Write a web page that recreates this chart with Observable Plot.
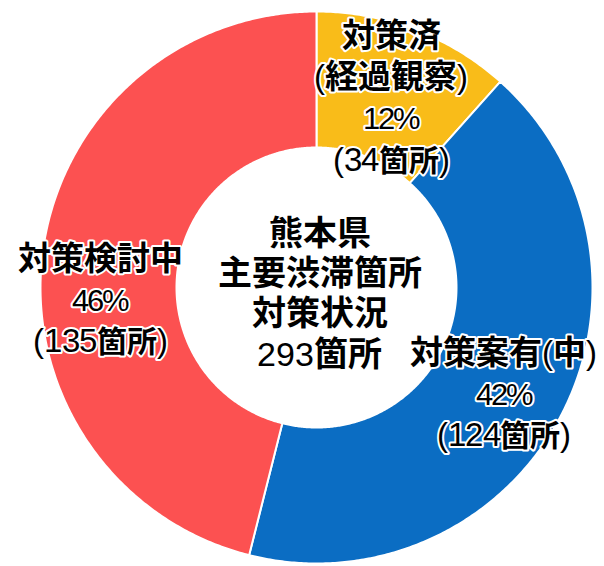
<!DOCTYPE html>
<html><head><meta charset="utf-8">
<script src="https://cdn.jsdelivr.net/npm/d3@7"></script>
<script src="https://cdn.jsdelivr.net/npm/@observablehq/plot@0.6"></script>
<style>
@font-face { font-family: "LabelMix"; src: local("Noto Sans CJK JP Bold"), local("NotoSansCJKjp-Bold"); font-weight: 700; }
@font-face { font-family: "LabelMix"; src: local("Liberation Sans"), local("LiberationSans"), local("Liberation Sans Regular"), local("DejaVu Sans Condensed"); font-weight: 700; unicode-range: U+0020-007E; }
html,body{margin:0;padding:0;background:#fff}
</style>
</head><body><div id="chart"></div>
<script>
// ---- data ----
const categories = ["対策済(経過観察)", "対策案有(中)", "対策検討中"];
const titles = ["対策済\n(経過観察)", "対策案有(中)", "対策検討中"];
const counts = [34, 124, 135];
const percents = [12, 42, 46];
const centerLines = ["熊本県", "主要渋滞箇所", "対策状況", "293箇所"];
const colors = ["#F9BC19", "#0B6DC3", "#FC5151"];

// ---- layout ----
const W = 604, H = 566;
const cx = 316, cy = 287, Rpx = 276;   // centre & outer radius in px
const innerRatio = 140 / 276;
const labelRadius = 0.76;
const labelNudge = [[0, 4], [2, 6], [-8, 36]]; // px nudges per slice label
const fontMix = '"LabelMix", "Noto Sans CJK JP", sans-serif';

const total = d3.sum(counts);
const rows = [];
const labels = [];
let acc = 0;
categories.forEach((cat, i) => {
  const a0 = acc / total * 2 * Math.PI;
  acc += counts[i];
  const a1 = acc / total * 2 * Math.PI;
  const n = Math.max(4, Math.ceil((a1 - a0) / (Math.PI / 360)));
  for (let k = 0; k <= n; k++) {
    const a = a0 + (a1 - a0) * k / n;
    rows.push({cat, x: Math.sin(a), y: Math.cos(a)});
  }
  for (let k = n; k >= 0; k--) {
    const a = a0 + (a1 - a0) * k / n;
    rows.push({cat, x: innerRatio * Math.sin(a), y: innerRatio * Math.cos(a)});
  }
  const am = (a0 + a1) / 2;
  labels.push({
    i,
    x: labelRadius * Math.sin(am),
    y: labelRadius * Math.cos(am),
    text: `${titles[i]}\n${percents[i]}%\n(${counts[i]}箇所)`
  });
});

const marks = [
  Plot.line(rows, {x: "x", y: "y", z: "cat", fill: "cat", stroke: "white", strokeWidth: 2, curve: "linear-closed"})
];
labels.forEach(l => {
  marks.push(Plot.text([l], {
    x: "x", y: "y", text: "text",
    dx: labelNudge[l.i][0], dy: labelNudge[l.i][1],
    fontSize: 33, fontWeight: 700, fontFamily: fontMix,
    lineHeight: 1.25, fill: "black", stroke: "white", strokeWidth: 4
  }));
});
marks.push(Plot.text([{x: 0, y: 0, text: centerLines.join("\n")}], {
  x: "x", y: "y", text: "text", dx: 3, dy: 5,
  fontSize: 34, fontWeight: 700, fontFamily: fontMix, lineHeight: 1.18, fill: "black"
}));

const chart = Plot.plot({
  width: W, height: H,
  margin: 0,
  x: {domain: [-cx / Rpx, (W - cx) / Rpx], axis: null},
  y: {domain: [(cy - H) / Rpx, cy / Rpx], axis: null},
  color: {domain: categories, range: colors},
  style: {background: "white"},
  marks
});
document.getElementById("chart").appendChild(chart);

// slice-label lines with numerals: digits and CJK sized as in the reference
chart.querySelectorAll("text").forEach(t => {
  if (t.textContent.startsWith(centerLines[0])) return;
  t.querySelectorAll("tspan").forEach(line => {
    const s = line.textContent;
    if (!/[0-9]/.test(s)) return;
    const pct = s.includes("%");
    const isNum = p => /^[0-9%]+$/.test(p);
    const isCJK = p => /[\u3000-\u9fff]/.test(p);
    d3.select(line).text(null).selectAll("tspan")
      .data(s.split(/([0-9%]+|[\u3000-\u9fff]+)/).filter(p => p))
      .join("tspan")
      .text(p => p)
      .attr("font-size", p => isNum(p) ? (pct ? 31 : 33) : isCJK(p) ? 30 : null)
      .attr("letter-spacing", p => isNum(p) ? (pct ? -2 : -0.5) : null);
  });
});
</script>
</body></html>
